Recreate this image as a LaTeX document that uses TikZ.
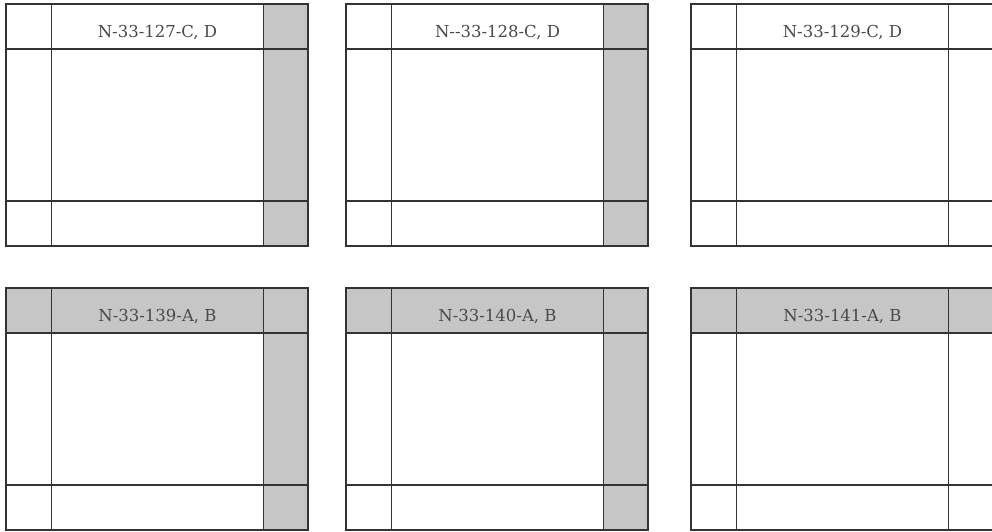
\documentclass[tikz,border=0pt]{standalone}
\usepackage{fontspec}
\setmainfont{DejaVu Serif}
\definecolor{cellgray}{HTML}{C6C6C6}
\definecolor{linegray}{HTML}{333333}
\definecolor{textgray}{HTML}{4A4A4A}
% #1 x, #2 y, #3 label, #4 name, #5 top row fill, #6 right column fill, #7 top-right fill
\newcommand\mappanel[7]{%
\begin{scope}[shift={(#1,-#2)}]
\fill[#5] (0,0) rectangle (257.5,-45);
\fill[#6] (257.5,-45) rectangle (302,-242);
\fill[#7] (257.5,0) rectangle (302,-45);
\draw[gridline] (0,0) rectangle (302,-242);
\draw[gridline] (45.5,0) -- (45.5,-242);
\draw[gridline] (257.5,0) -- (257.5,-242);
\draw[gridline] (0,-45) -- (302,-45);
\draw[gridline] (0,-197) -- (302,-197);
\node[sheetlabel] (#4) at (151.5,-33) {#3};
\end{scope}}
\begin{document}
\begin{tikzpicture}[x=1pt,y=1pt,
  gridline/.style={draw=linegray,line width=1.6pt},
  sheetlabel/.style={anchor=base,inner sep=0pt,text=textgray,font=\fontsize{16.5}{18}\selectfont}]
\useasboundingbox (0,0) rectangle (992,-531);
\clip (0,0) rectangle (992,-531);
\fill[white] (0,0) rectangle (992,-531);
\mappanel{6}{4}{N-33-127-C, D}{p127}{white}{cellgray}{cellgray}
\mappanel{346}{4}{N-{}-33-128-C, D}{p128}{white}{cellgray}{cellgray}
\mappanel{691}{4}{N-33-129-C, D}{p129}{white}{white}{white}
\mappanel{6}{288}{N-33-139-A, B}{p139}{cellgray}{cellgray}{cellgray}
\mappanel{346}{288}{N-33-140-A, B}{p140}{cellgray}{cellgray}{cellgray}
\mappanel{691}{288}{N-33-141-A, B}{p141}{cellgray}{white}{cellgray}
\end{tikzpicture}
\end{document}
